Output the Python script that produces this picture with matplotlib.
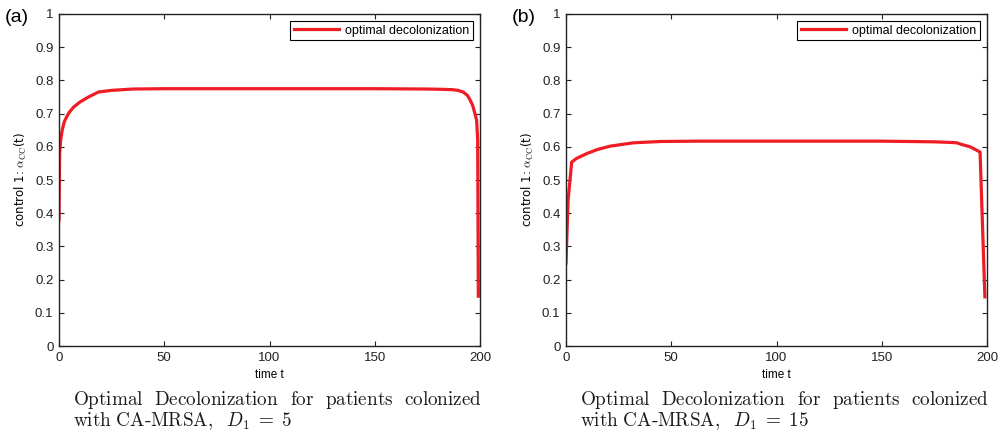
import matplotlib.pyplot as plt
import numpy as np

# curve (a), D1 = 5
t_a = [0, 0.3, 0.8, 1.5, 2.5, 3.6, 5, 7, 10, 14, 18.7, 25, 35, 50, 100, 150, 175, 183,
       187, 189.5, 192, 194, 195.3, 196.5, 197.6, 198.4, 198.9, 199.2]
u_a = [0.38, 0.58, 0.62, 0.65, 0.675, 0.69, 0.705, 0.72, 0.735, 0.75, 0.765, 0.77, 0.774,
       0.775, 0.775, 0.775, 0.774, 0.773, 0.772, 0.770, 0.765, 0.755, 0.741, 0.725, 0.70,
       0.68, 0.62, 0.15]

# curve (b), D1 = 15
t_b = [0, 1, 2.7, 5, 10, 15, 21, 32, 45, 63, 100, 150, 175, 183, 185.6, 188, 192, 195,
       196.7, 199]
u_b = [0.25, 0.44, 0.554, 0.565, 0.58, 0.592, 0.602, 0.612, 0.616, 0.617, 0.617, 0.617,
       0.615, 0.613, 0.612, 0.607, 0.6, 0.59, 0.584, 0.148]

panels = ['(a)', '(b)']
words1 = ['Optimal', 'Decolonization', 'for', 'patients', 'colonized']
captions = [r'$\mathrm{with\ CA\text{-}MRSA,}\ \ D_1\;=\;5$',
            r'$\mathrm{with\ CA\text{-}MRSA,}\ \ D_1\;=\;15$']

plt.rcParams['font.family'] = ['Liberation Sans', 'DejaVu Sans']
plt.rcParams['mathtext.fontset'] = 'cm'

fig = plt.figure(figsize=(10.03, 4.36), dpi=100)
ax1 = fig.add_axes([59/1003, 1-346/436, 421/1003, 332/436])
ax2 = fig.add_axes([566/1003, 1-346/436, 421/1003, 332/436])
renderer = fig.canvas.get_renderer()
capsize = 13.8
capcol = '#1a1a1a'

for ax, t, u, lab, cap in zip([ax1, ax2], [t_a, t_b], [u_a, u_b], panels, captions):
    ax.plot(t, u, color='#ee1c25', lw=2.3, label='optimal decolonization')
    ax.set_xlim(0, 200)
    ax.set_ylim(0, 1)
    ax.set_xticks([0, 50, 100, 150, 200])
    ax.set_yticks(np.arange(0, 1.01, 0.1))
    ax.set_yticklabels(['0', '0.1', '0.2', '0.3', '0.4', '0.5', '0.6', '0.7', '0.8', '0.9', '1'])
    ax.tick_params(direction='in', top=True, right=True, labelsize=9.5, length=3.5,
                   width=0.8, colors='#222222', pad=4)
    for s in ax.spines.values():
        s.set_linewidth(1.0)
        s.set_color('#222222')
    ax.set_xlabel('time t', fontsize=8.5, labelpad=4)
    ax.set_ylabel(r'control 1: $\alpha_{\rm CC}$(t)', fontsize=8.5, labelpad=4,
                  family=['DejaVu Sans'])
    leg = ax.legend(loc='upper right', fontsize=9, fancybox=False, framealpha=1,
                    edgecolor='black', handlelength=3.6, borderpad=0.3,
                    borderaxespad=0.55, handletextpad=0.5)
    leg.get_frame().set_linewidth(0.8)
    bb = ax.get_position()
    fig.text(bb.x0 - 54/1003, 1-18/436, lab, fontsize=14, va='center', ha='left')

    # first caption line, justified between x0+14 px and right spine
    x_left = bb.x0 * 1003 + 14
    x_right = bb.x1 * 1003 + 2
    txts = [fig.text(0, 1-400/436, r'$\mathrm{%s}$' % w, fontsize=capsize, va='center',
                     ha='left', color=capcol) for w in words1]
    widths = [tx.get_window_extent(renderer).width for tx in txts]
    gap = (x_right - x_left - sum(widths)) / (len(words1) - 1)
    x = x_left
    for tx, w in zip(txts, widths):
        tx.set_x(x / 1003)
        x += w + gap
    fig.text(x_left / 1003, 1-421/436, cap, fontsize=capsize, va='center', ha='left',
             color=capcol)

fig.savefig('out.png', dpi=100)
